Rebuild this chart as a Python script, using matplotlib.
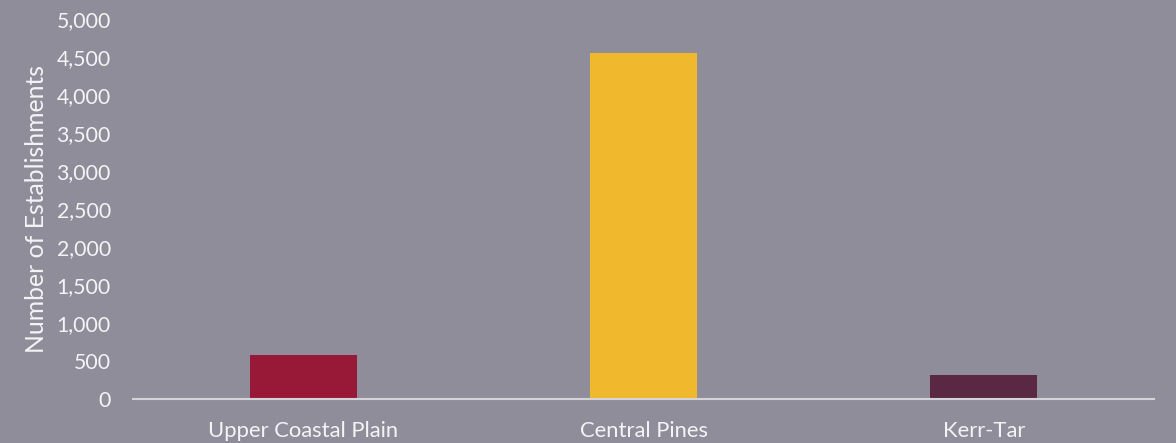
import matplotlib
matplotlib.use("Agg")
import matplotlib.pyplot as plt
from matplotlib.ticker import FuncFormatter, MultipleLocator

regions = ["Upper Coastal Plain", "Central Pines", "Kerr-Tar"]
establishments = [579, 4553, 316]
bar_colors = ["#981838", "#F0B92D", "#5B2843"]

bg = "#8E8D99"
text_color = "#F4F4F6"

plt.rcParams["font.family"] = ["Lato", "DejaVu Sans"]

fig = plt.figure(figsize=(11.76, 4.43), dpi=100, facecolor=bg)
ax = fig.add_axes([133 / 1176, 1 - 399 / 443, (1154 - 133) / 1176, (399 - 19) / 443])
ax.set_facecolor(bg)

x = range(len(regions))
ax.bar(x, establishments, width=0.314, color=bar_colors, zorder=2)

ax.set_xlim(-0.5, len(regions) - 0.5)
ax.set_ylim(0, 5000)
ax.yaxis.set_major_locator(MultipleLocator(500))
ax.yaxis.set_major_formatter(FuncFormatter(lambda v, _: f"{int(v):,}"))
ax.set_xticks(list(x))
ax.set_xticklabels(regions)

for side in ["top", "right", "left"]:
    ax.spines[side].set_visible(False)
ax.spines["bottom"].set_color("#D4D4D8")
ax.spines["bottom"].set_linewidth(1.5)
ax.spines["bottom"].set_zorder(3)

ax.tick_params(axis="y", length=0, pad=16, labelsize=15.3, labelcolor=text_color)
ax.tick_params(axis="x", length=0, pad=16, labelsize=15.8, labelcolor=text_color)

ax.set_ylabel("Number of Establishments", fontsize=17.8, color=text_color, labelpad=6)

fig.savefig("out.png", dpi=100, facecolor=bg)
